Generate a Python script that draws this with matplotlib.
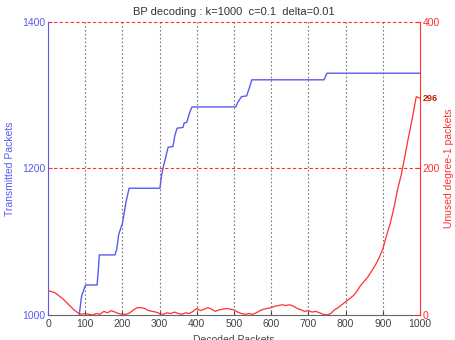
import numpy as np
import matplotlib
matplotlib.use("Agg")
import matplotlib.pyplot as plt

plt.rcParams.update({
    "font.family": ["Liberation Sans", "DejaVu Sans"],
    "font.size": 7.5,
    "xtick.direction": "in",
    "ytick.direction": "in",
})

BLUE = "#5a5af0"
RED = "#ff3030"

# decoded packets -> transmitted packets (left axis)
blue_x = [84, 90, 100, 104, 132, 135, 138, 180, 185, 190, 200, 205, 210, 218,
          301, 305, 310, 323, 336, 341, 347, 363, 366, 373, 380, 387,
          505, 510, 520, 534, 540, 548, 742, 750, 1000]
blue_y = [1000, 1025, 1040, 1041, 1041, 1060, 1082, 1082, 1090, 1110, 1125, 1140, 1155, 1173,
          1173, 1190, 1202, 1229, 1230, 1245, 1255, 1256, 1262, 1263, 1275, 1284,
          1284, 1290, 1298, 1299, 1308, 1321, 1321, 1330, 1330]

# decoded packets -> unused degree-1 packets (right axis)
red_x = list(range(0, 1001, 10))
red_y = [33, 32, 30, 26, 22, 17, 12, 7, 3, 1,
         2, 1, 0, 2, 1, 5, 3, 6, 4, 2,
         1, 1, 3, 7, 10, 10, 9, 6, 5, 4,
         2, 1, 3, 2, 4, 2, 1, 3, 2, 5,
         9, 6, 8, 10, 8, 5, 7, 8, 9, 8,
         7, 4, 2, 1, 2, 1, 3, 6, 8, 9,
         10, 12, 13, 14, 13, 14, 12, 9, 7, 5,
         6, 4, 5, 3, 1, 0, 2, 7, 10, 14,
         18, 22, 26, 32, 40, 46, 52, 60, 68, 78,
         90, 108, 125, 146, 172, 192, 218, 245, 270, 298,
         296]

fig = plt.figure(figsize=(4.55, 3.4), dpi=100)
ax1 = fig.add_axes([0.1055, 0.0735, 0.8175, 0.862])
ax2 = ax1.twinx()

ax1.plot(blue_x, blue_y, color=BLUE, linewidth=1.0, zorder=3)
ax1.set_xlim(0, 1000)
ax1.set_ylim(1000, 1400)
ax1.set_xticks(range(0, 1001, 100))
ax1.set_yticks([1000, 1200, 1400])
ax1.tick_params(axis="y", colors=BLUE, length=3, pad=2)
ax1.tick_params(axis="x", colors="#444444", length=3, pad=3)
ax1.set_ylabel("Transmitted Packets", color=BLUE, labelpad=5)
ax1.set_xlabel("Decoded Packets", color="#444444", labelpad=4)
ax1.set_title("BP decoding : k=1000  c=0.1  delta=0.01", color="#333333",
              fontsize=8, pad=5)
for xv in range(100, 1000, 100):
    ax1.axvline(xv, color="#777777", linestyle=(0, (1.5, 2)), linewidth=0.8, zorder=1)

ax2.plot(red_x, red_y, color=RED, linewidth=0.9, zorder=3)
ax2.set_ylim(0, 400)
ax2.set_yticks([0, 200, 400])
ax2.tick_params(axis="y", colors=RED, length=3, pad=2)
ax2.set_ylabel("Unused degree-1 packets", color=RED, labelpad=3)
for yv in [200, 400]:
    ax2.axhline(yv, color=RED, linestyle=(0, (3, 2)), linewidth=0.8, zorder=1, clip_on=False)
ax2.text(1008, red_y[-1], str(red_y[-1]), color="#c02000", fontsize=6.5,
         fontweight="bold", va="center", ha="left", clip_on=False)

for ax in (ax1, ax2):
    ax.spines["top"].set_visible(False)
ax1.spines["left"].set_color(BLUE)
ax1.spines["bottom"].set_color("#666666")
ax2.spines["right"].set_color(RED)
ax2.spines["left"].set_visible(False)
ax2.spines["bottom"].set_visible(False)
ax1.spines["right"].set_visible(False)

fig.savefig("out.png", dpi=100)
